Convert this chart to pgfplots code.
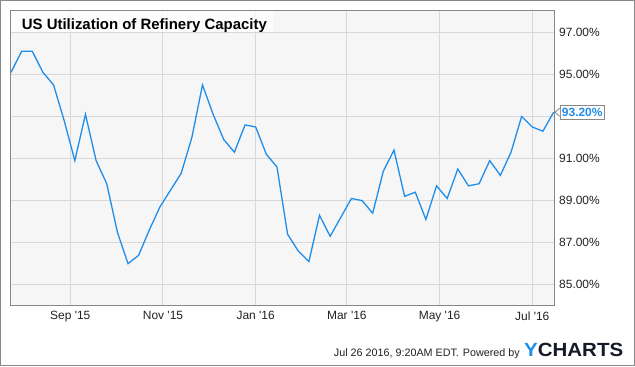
\documentclass[border=0pt]{standalone}
\usepackage{fontspec}
\setmainfont{Liberation Sans}
\usepackage{graphicx}
\usepackage{pgfplots}
\pgfplotsset{compat=1.18}
\definecolor{ybl}{RGB}{31,141,234}
\definecolor{gridc}{RGB}{216,216,216}
\definecolor{framec}{RGB}{136,136,136}
\definecolor{bgc}{RGB}{246,246,246}
\definecolor{txt}{RGB}{34,34,34}
\definecolor{navy}{RGB}{22,26,40}
\begin{document}
\begin{tikzpicture}[x=1bp,y=1bp]
\useasboundingbox (0,0) rectangle (635,366);
\fill[white] (0,0) rectangle (635,366);
\begin{axis}[
  at={(10.7bp,60.3bp)}, anchor=south west,
  scale only axis, width=543.3bp, height=295.4bp,
  xmin=-39.2, xmax=318.3, ymin=84, ymax=98.05,
  axis background/.style={fill=bgc},
  axis line style={framec, line width=1bp},
  xtick={0,61,122,182,243,304},
  xticklabels={Sep \textquotesingle15, Nov \textquotesingle15, Jan \textquotesingle16, Mar \textquotesingle16, May \textquotesingle16, Jul \textquotesingle16},
  ytick={85,87,89,91,93,95,97},
  yticklabels={85.00\%,87.00\%,89.00\%,91.00\%,,95.00\%,97.00\%},
  yticklabel pos=right,
  grid=major, major grid style={gridc, line width=1bp},
  major tick length=0pt,
  tick label style={font=\fontsize{12}{14}\selectfont, text=txt},
  /pgf/number format/assume math mode=true,
  yticklabel style={anchor=west, inner sep=0pt, xshift=5bp},
  xticklabel style={anchor=north, inner sep=0pt, yshift=-5.7bp},
  clip=false,
]
\addplot[ybl, line width=1.3bp, no markers] coordinates {
(-39,95.1) (-32,96.1) (-25,96.1) (-18,95.1) (-11,94.5) (-4,92.8)
(3,90.9) (10,93.1) (17,90.9) (24,89.8) (31,87.5) (38,86.0)
(45,86.4) (52,87.6) (59,88.7) (66,89.5) (73,90.3) (80,92.0)
(87,94.5) (94,93.1) (101,91.9) (108,91.3) (115,92.6) (122,92.5)
(129,91.2) (136,90.6) (143,87.4) (150,86.6) (157,86.1) (164,88.3)
(171,87.3) (178,88.2) (185,89.1) (192,89.0) (199,88.4) (206,90.4)
(213,91.4) (220,89.2) (227,89.4) (234,88.1) (241,89.7) (248,89.1)
(255,90.5) (262,89.7) (269,89.8) (276,90.9) (283,90.2) (290,91.3)
(297,93.0) (304,92.5) (311,92.3) (318,93.2)
};
\coordinate (last) at (axis cs:318,93.2);
\end{axis}
% title box
\fill[white, opacity=0.7] (11.2,334.3) rectangle (272.7,355.2);
\node[anchor=base west, inner sep=0pt, font=\fontsize{15}{18}\selectfont\bfseries] at (21.7,336.7) {US Utilization of Refinery Capacity};
% last value label
\node[anchor=west, draw=framec, fill=white, line width=0.8bp, inner xsep=2bp, inner ysep=2.5bp, font=\fontsize{12}{14}\selectfont\bfseries, text=ybl] (lbl) at ([xshift=6bp]last) {93.20\%};
\fill[white] ([xshift=6.5bp,yshift=4bp]last) -- ([xshift=1.5bp]last) -- ([xshift=6.5bp,yshift=-4bp]last) -- cycle;
\draw[framec, line width=0.8bp] ([xshift=6bp,yshift=4bp]last) -- ([xshift=1.5bp]last) -- ([xshift=6bp,yshift=-4bp]last);
% footer
\node[anchor=base east, inner sep=0pt, font=\fontsize{10.8}{12}\selectfont, text=txt] at (520,9.3) {Jul 26 2016, 9:20AM EDT.\hspace{4bp}Powered by};
\node[anchor=base west, inner sep=0pt] at (524,9.3) {\resizebox{99bp}{13.3bp}{\bfseries\color{ybl}Y\color{navy}CHARTS}};
% outer border
\draw[framec, line width=1bp] (0.5,0.5) rectangle (634.5,365.5);
\end{tikzpicture}
\end{document}
